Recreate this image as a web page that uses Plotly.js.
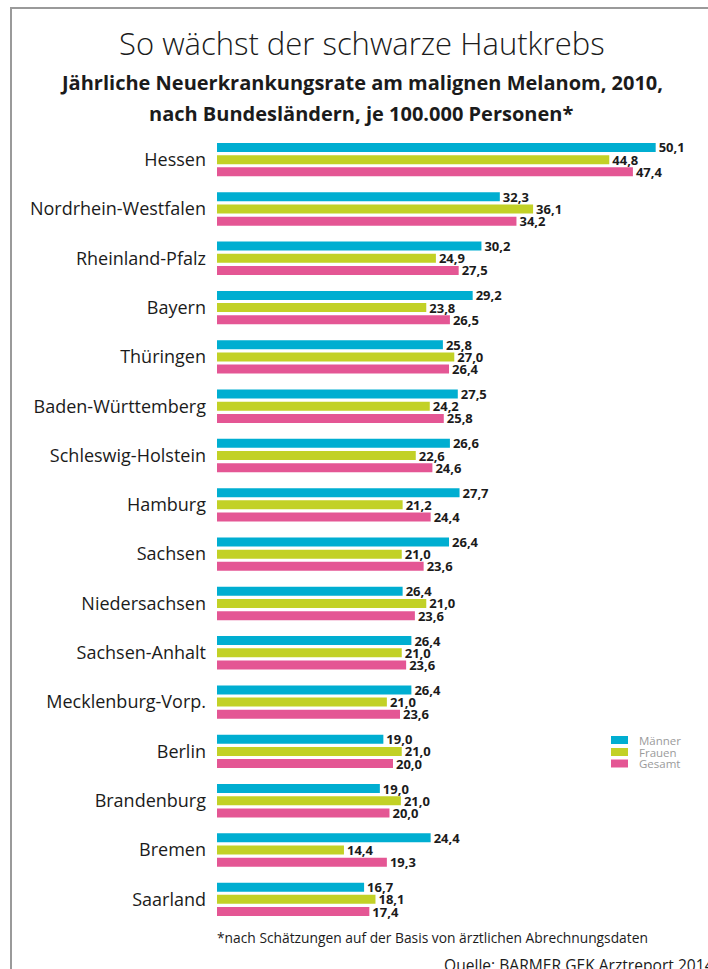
<!DOCTYPE html>
<html>
<head>
<meta charset="utf-8">
<script src="https://cdn.plot.ly/plotly-3.0.1.min.js"></script>
<style>
html,body{margin:0;padding:0;background:#fff;}
#chart{width:708px;height:969px;}
</style>
</head>
<body>
<div id="chart"></div>
<script>
// ---- data ----
const laender = ["Hessen","Nordrhein-Westfalen","Rheinland-Pfalz","Bayern","Thüringen","Baden-Württemberg","Schleswig-Holstein","Hamburg","Sachsen","Niedersachsen","Sachsen-Anhalt","Mecklenburg-Vorp.","Berlin","Brandenburg","Bremen","Saarland"];
// bar lengths as drawn in the picture
const maenner = [50.1,32.3,30.2,29.2,25.8,27.5,26.6,27.7,26.5,21.2,22.2,22.2,19.0,18.6,24.4,16.8];
const frauen  = [44.8,36.1,25.0,23.9,27.1,24.3,22.7,21.2,21.1,23.9,21.1,19.4,21.1,21.0,14.5,18.1];
const gesamt  = [47.5,34.2,27.6,26.6,26.5,25.9,24.6,24.4,23.6,22.6,21.6,20.9,20.1,19.7,19.4,17.4];
// value labels as printed in the picture
const labelM = ["50,1","32,3","30,2","29,2","25,8","27,5","26,6","27,7","26,4","26,4","26,4","26,4","19,0","19,0","24,4","16,7"];
const labelF = ["44,8","36,1","24,9","23,8","27,0","24,2","22,6","21,2","21,0","21,0","21,0","21,0","21,0","21,0","14,4","18,1"];
const labelG = ["47,4","34,2","27,5","26,5","26,4","25,8","24,6","24,4","23,6","23,6","23,6","23,6","20,0","20,0","19,3","17,4"];
const seriesNames = ["Männer","Frauen","Gesamt"];
const colors = ["#00AED1","#C2D126","#E45694"];

// ---- layout geometry (pixels) ----
const W = 708, H = 969;
const L = 217, R = 10, T = 135, B = 45;
const PW = W - L - R, PH = H - T - B;
const xp = px => (px - L) / PW;
const yp = py => (H - B - py) / PH;

const txtFont = {family: "Open Sans", size: 13, color: "#1b1b1b", weight: "bold"};
function mk(i, vals, labels) {
  return {
    type: "bar", orientation: "h",
    name: seriesNames[i], y: laender, x: vals,
    text: labels, textposition: "outside", cliponaxis: false,
    constraintext: "none",
    outsidetextfont: txtFont, textfont: txtFont,
    marker: {color: colors[i], line: {width: 0}},
    hoverinfo: "skip", showlegend: false
  };
}
const data = [mk(0, maenner, labelM), mk(1, frauen, labelF), mk(2, gesamt, labelG)];

const ann = [
  {text: "So wächst der schwarze Hautkrebs", x: xp(362), y: yp(43), xanchor: "center", yanchor: "middle",
   font: {family: "Open Sans", size: 31, color: "#1b1b1b", weight: 300}},
  {text: "Jährliche Neuerkrankungsrate am malignen Melanom, 2010,", x: xp(361), y: yp(83), xanchor: "center", yanchor: "middle",
   font: {family: "Open Sans", size: 20, color: "#1b1b1b", weight: "bold"}},
  {text: "nach Bundesländern, je 100.000 Personen*", x: xp(361), y: yp(113), xanchor: "center", yanchor: "middle",
   font: {family: "Open Sans", size: 20, color: "#1b1b1b", weight: "bold"}},
  {text: "*nach Schätzungen auf der Basis von ärztlichen Abrechnungsdaten", x: xp(215), y: yp(937), xanchor: "left", yanchor: "middle",
   font: {family: "Open Sans", size: 13.8, color: "#1b1b1b"}},
  {text: "Quelle: BARMER GEK Arztreport 2014", x: xp(442), y: yp(952), xanchor: "left", yanchor: "top",
   font: {family: "Open Sans", size: 15.6, color: "#1b1b1b"}}
];
const shapes = [
  {type: "line", xref: "paper", yref: "paper", x0: xp(11), x1: xp(11), y0: yp(7), y1: yp(975), line: {color: "#9a9a9a", width: 2}},
  {type: "line", xref: "paper", yref: "paper", x0: xp(10), x1: xp(708), y0: yp(8), y1: yp(8), line: {color: "#9a9a9a", width: 2}}
];
// legend (drawn manually to match compact spacing)
const legY = [740, 752, 763.5];
seriesNames.forEach((n, i) => {
  shapes.push({type: "rect", xref: "paper", yref: "paper", x0: xp(611), x1: xp(628), y0: yp(legY[i] - 4), y1: yp(legY[i] + 4),
    fillcolor: colors[i], line: {width: 0}});
  ann.push({text: n, x: xp(637), y: yp(legY[i]), xanchor: "left", yanchor: "middle",
    font: {family: "Open Sans", size: 11.5, color: "#9b9b9b"}});
});
ann.forEach(a => { a.xref = "paper"; a.yref = "paper"; a.showarrow = false; });

const layout = {
  width: W, height: H,
  margin: {l: L, r: R, t: T, b: B, pad: 0},
  paper_bgcolor: "#fff", plot_bgcolor: "#fff",
  barmode: "group", bargap: 0.26, bargroupgap: 0.26,
  xaxis: {range: [0, PW / 8.756], visible: false, fixedrange: true},
  yaxis: {autorange: "reversed", showgrid: false, zeroline: false, showline: false, ticks: "",
          ticklabelstandoff: 10,
          tickfont: {family: "Open Sans", size: 18, color: "#1b1b1b"}},
  annotations: ann, shapes: shapes,
  uniformtext: {mode: false}
};
Plotly.newPlot("chart", data, layout, {displayModeBar: false, staticPlot: true});
</script>
</body>
</html>
